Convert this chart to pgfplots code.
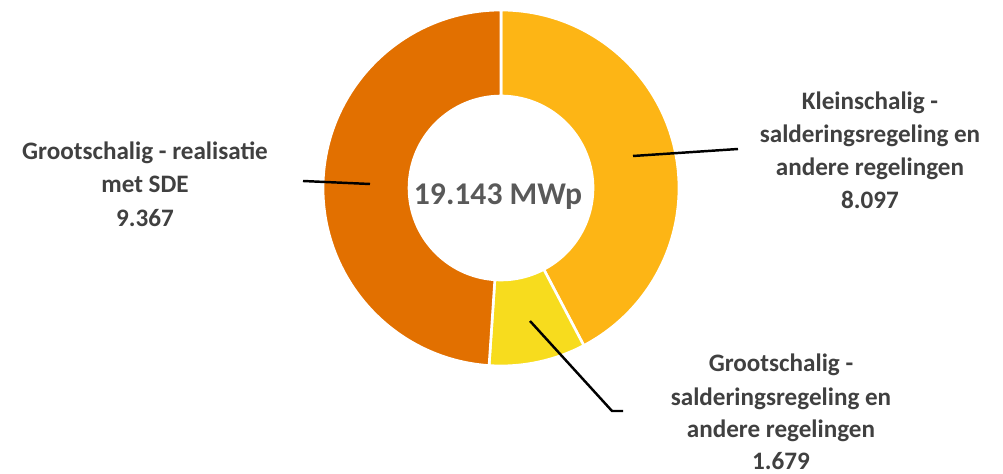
\documentclass[border=0pt]{standalone}
\usepackage{pgfplots}
\pgfplotsset{compat=1.18}
\usepackage{pgfplotstable}
\usepackage{fontspec}
\setmainfont{Carlito}

\definecolor{klein}{HTML}{FDB515}
\definecolor{groot}{HTML}{F7DC1E}
\definecolor{sde}{HTML}{E27000}
\definecolor{lbl}{HTML}{404040}
\definecolor{ctr}{HTML}{595959}

% donut data (MWp)
\pgfplotstableread{
name value
Kleinschalig 8.097
GrootSald 1.679
GrootSDE 9.367
}\donut

\pgfplotstablegetelem{0}{value}\of\donut \let\va\pgfplotsretval
\pgfplotstablegetelem{1}{value}\of\donut \let\vb\pgfplotsretval
\pgfplotstablegetelem{2}{value}\of\donut \let\vc\pgfplotsretval
\pgfmathsetmacro\tot{\va+\vb+\vc}
\pgfmathsetmacro\aB{90-360*\va/\tot}
\pgfmathsetmacro\aC{\aB-360*\vb/\tot}

\def\Rout{3.56cm}
\def\dr{-1.72cm}
\newcommand\sector[3]{%
  \fill[#3,draw=white,line width=1.5pt] (c0) ++(#1:\Rout)
    arc[start angle=#1,end angle=#2,radius=\Rout]
    -- ++(#2:\dr)
    arc[start angle=#2,end angle=#1,radius=1.84cm] -- cycle;}
\newcommand\lab[3]{\node[lbl,anchor=base,inner sep=0pt,
  font=\fontsize{14.3pt}{19pt}\selectfont\bfseries] at (axis cs:#1,#2) {#3};}

\begin{document}
\begin{tikzpicture}
\begin{axis}[
  x=0.02cm, y=0.02cm,
  xmin=0, xmax=1003, ymin=0, ymax=473,
  scale only axis, hide axis, clip=false,
]
\path (axis cs:0,0) rectangle (axis cs:1003,473);
\coordinate (c0) at (axis cs:501,285);

\sector{90}{\aB}{klein}
\sector{\aB}{\aC}{groot}
\sector{\aC}{-270}{sde}

% leader lines
\draw[black,line width=1.4pt] (axis cs:633,317) -- (axis cs:738,324);
\draw[black,line width=1.4pt] (axis cs:303,292) -- (axis cs:370,289);
\draw[black,line width=1.4pt] (axis cs:530,152) -- (axis cs:612,62) -- (axis cs:623,62);

% centre text
\node[ctr,anchor=base,inner sep=0pt,font=\fontsize{18pt}{22pt}\selectfont\bfseries]
  at (axis cs:498,268) {19.143 MWp};

% labels
\lab{145}{313}{Grootschalig - realisatie}
\lab{145}{280}{met SDE}
\lab{145}{246}{9.367}

\lab{870}{363}{Kleinschalig -}
\lab{870}{330}{salderingsregeling en}
\lab{870}{297}{andere regelingen}
\lab{870}{264}{8.097}

\lab{781}{101}{Grootschalig -}
\lab{781}{68}{salderingsregeling en}
\lab{781}{36}{andere regelingen}
\lab{781}{4}{1.679}
\end{axis}
\end{tikzpicture}
\end{document}
